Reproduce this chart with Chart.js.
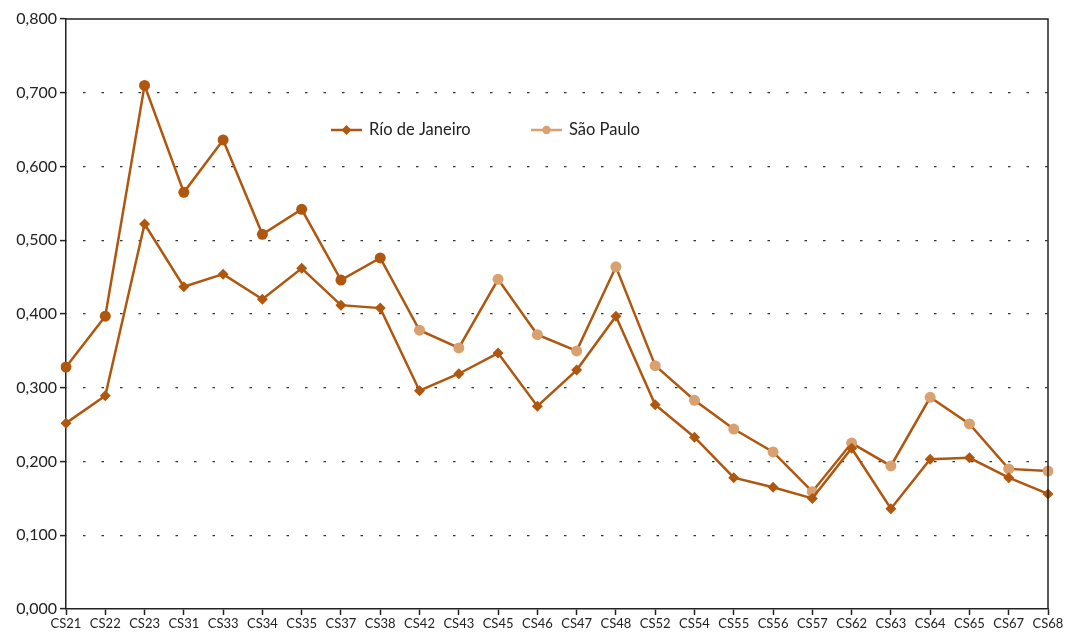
<!DOCTYPE html>
<html>
<head>
<meta charset="utf-8">
<script src="https://cdn.jsdelivr.net/npm/chart.js@4.4.1/dist/chart.umd.min.js"></script>
<style>
  html, body { margin: 0; padding: 0; background: #fff; }
  #wrap { width: 1075px; height: 636px; position: relative; }
</style>
</head>
<body>
<div id="wrap"><canvas id="chart"></canvas></div>
<script>
const categories = ['CS21','CS22','CS23','CS31','CS33','CS34','CS35','CS37','CS38','CS42','CS43','CS45','CS46',
  'CS47','CS48','CS52','CS54','CS55','CS56','CS57','CS62','CS63','CS64','CS65','CS67','CS68'];
const rioValues = [0.252,0.289,0.522,0.437,0.454,0.420,0.462,0.412,0.408,0.296,0.319,0.347,0.275,
  0.324,0.397,0.277,0.233,0.178,0.165,0.150,0.218,0.136,0.203,0.205,0.178,0.156];
const spValues = [0.328,0.397,0.710,0.565,0.636,0.508,0.542,0.446,0.476,0.378,0.354,0.447,0.372,
  0.350,0.464,0.330,0.283,0.244,0.213,0.159,0.225,0.194,0.287,0.251,0.190,0.187];
const yTicks = [0, 0.1, 0.2, 0.3, 0.4, 0.5, 0.6, 0.7, 0.8];
const seriesNames = ['Río de Janeiro', 'São Paulo'];

const DARK = '#b0570f';
const LIGHT = '#d9a070';
const FONT = 'Lato, "DejaVu Sans", sans-serif';

// São Paulo: los primeros puntos salen oscuros, el resto claros
const spPointColors = spValues.map((v, i) => i < 9 ? DARK : LIGHT);

// leyenda dentro del área del gráfico
const legendPlugin = {
  id: 'innerLegend',
  afterDraw(chart) {
    const ctx = chart.ctx;
    const y = 130;
    const items = [
      { x: 331, color: DARK, style: 'diamond', text: seriesNames[0] },
      { x: 531, color: LIGHT, style: 'circle', text: seriesNames[1] }
    ];
    ctx.save();
    items.forEach(it => {
      ctx.strokeStyle = it.color;
      ctx.lineWidth = 2.5;
      ctx.beginPath();
      ctx.moveTo(it.x, y);
      ctx.lineTo(it.x + 31, y);
      ctx.stroke();
      ctx.fillStyle = it.color;
      ctx.beginPath();
      const cx = it.x + 15.5;
      if (it.style === 'diamond') {
        ctx.moveTo(cx, y - 5); ctx.lineTo(cx + 5, y); ctx.lineTo(cx, y + 5); ctx.lineTo(cx - 5, y);
        ctx.closePath();
      } else {
        ctx.arc(cx, y, 4.2, 0, Math.PI * 2);
      }
      ctx.fill();
      ctx.fillStyle = '#222';
      ctx.font = '16.5px ' + FONT;
      ctx.textBaseline = 'middle';
      ctx.textAlign = 'left';
      ctx.fillText(it.text, it.x + 38, y);
    });
    // borde superior y derecho del área
    const a = chart.chartArea;
    ctx.strokeStyle = '#222';
    ctx.lineWidth = 1.5;
    ctx.beginPath();
    ctx.moveTo(a.left, a.top);
    ctx.lineTo(a.right, a.top);
    ctx.lineTo(a.right, a.bottom);
    ctx.stroke();
    ctx.restore();
  }
};

new Chart(document.getElementById('chart'), {
  type: 'line',
  data: {
    labels: categories,
    datasets: [
      {
        label: seriesNames[0],
        data: rioValues,
        borderColor: DARK,
        backgroundColor: DARK,
        borderWidth: 2.5,
        pointStyle: 'rectRot',
        pointRadius: 5.5,
        pointBorderWidth: 0,
        tension: 0
      },
      {
        label: seriesNames[1],
        data: spValues,
        borderColor: DARK,
        backgroundColor: spPointColors,
        pointBackgroundColor: spPointColors,
        borderWidth: 2.5,
        pointStyle: 'circle',
        pointRadius: 5.5,
        pointBorderWidth: 0,
        tension: 0
      }
    ]
  },
  options: {
    responsive: true,
    maintainAspectRatio: false,
    animation: false,
    layout: { padding: { top: 19, right: 27, left: 0, bottom: 0 } },
    plugins: {
      legend: { display: false },
      tooltip: { enabled: false }
    },
    scales: {
      x: {
        offset: false,
        grid: { drawOnChartArea: false, drawTicks: true, tickLength: 6, tickColor: '#222', tickWidth: 1.5 },
        border: { color: '#222', width: 1.5 },
        ticks: { color: '#222', font: { family: FONT, size: 13 }, padding: 1, maxRotation: 0, autoSkip: false },
        afterFit(scale) { scale.height = 27; }
      },
      y: {
        min: 0,
        max: 0.8,
        afterBuildTicks(scale) { scale.ticks = yTicks.map(v => ({ value: v })); },
        grid: {
          color: ctx => (ctx.tick && (ctx.tick.value === 0 || ctx.tick.value === 0.8)) ? 'rgba(0,0,0,0)' : '#333',
          lineWidth: 1.2,
          tickLength: 6,
          tickColor: '#222',
          tickWidth: 1.5,
          tickBorderDash: []
        },
        border: { color: '#222', width: 1.5, dash: [2.5, 16], dashOffset: 2 },
        ticks: {
          color: '#222',
          font: { family: FONT, size: 16 },
          padding: 3,
          callback: v => v.toFixed(3).replace('.', ',')
        },
        afterFit(scale) { scale.width = 66; }
      }
    }
  },
  plugins: [legendPlugin]
});
</script>
</body>
</html>
